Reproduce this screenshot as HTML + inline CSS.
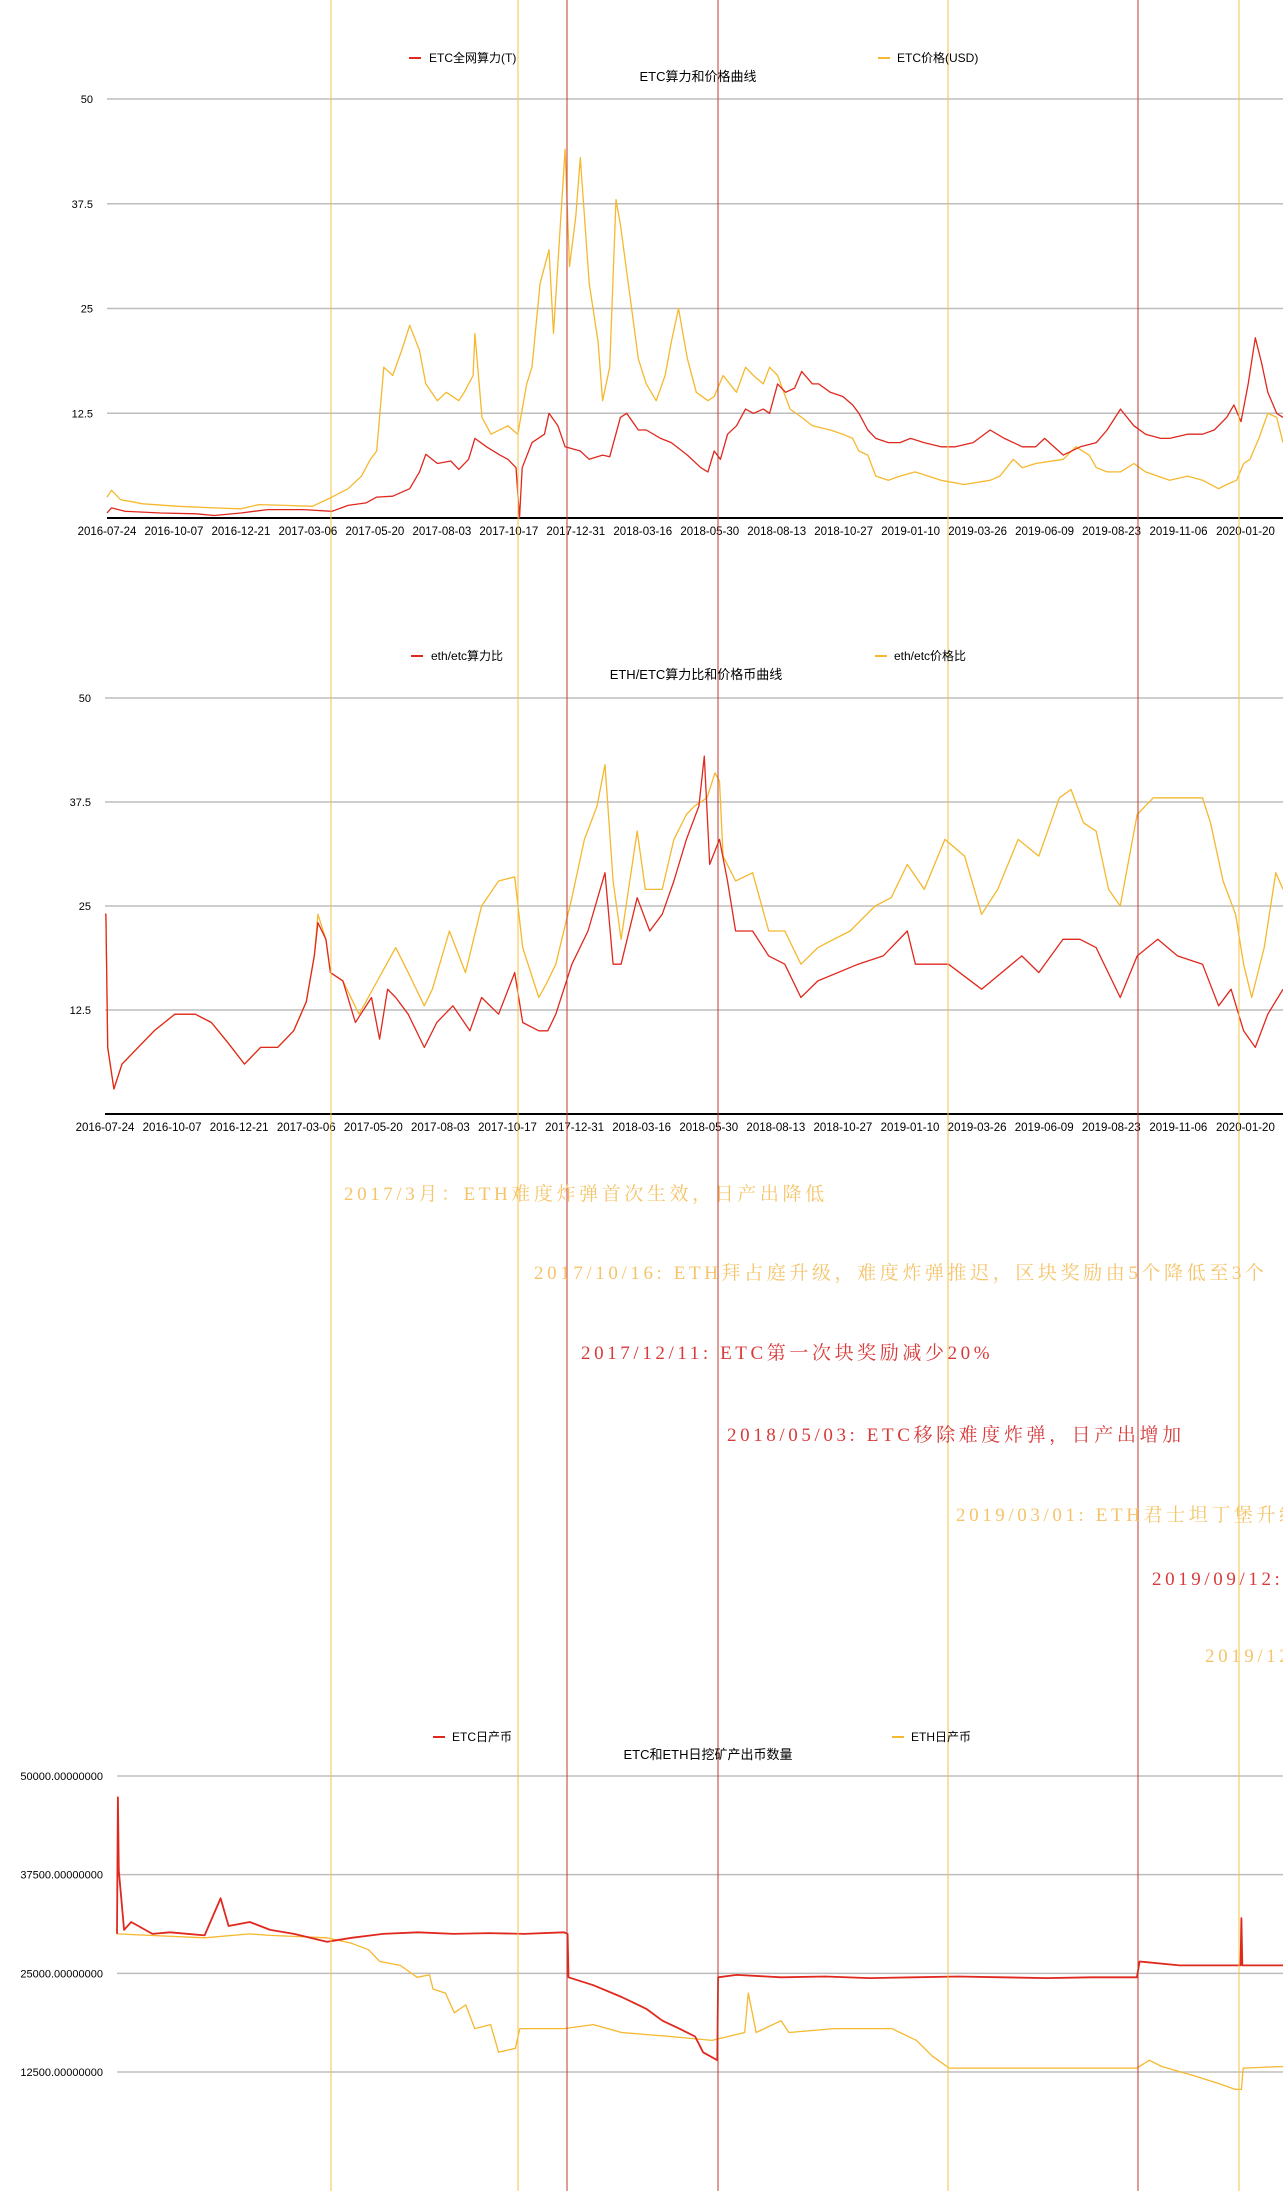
<!DOCTYPE html>
<html><head><meta charset="utf-8"><style>
html,body{margin:0;padding:0;background:#fff;}
svg{display:block;font-family:"Liberation Sans","Noto Sans CJK SC",sans-serif;}
.ann{font-family:"Liberation Serif","Noto Serif CJK SC",serif;font-size:19px;letter-spacing:3.6px;}
</style></head><body>
<svg id="page" width="1283" height="2191" viewBox="0 0 1283 2191" xmlns="http://www.w3.org/2000/svg">
<g id="grid1"></g>
<g id="grid2"></g>
<g id="grid3"></g>
<g id="series"></g>
<g id="vlines"></g>

<g>
<line x1="409" y1="58" x2="421" y2="58" stroke="#e0281e" stroke-width="2"/>
<text x="429" y="62" font-size="12">ETC全网算力(T)</text>
<line x1="878" y1="58" x2="890" y2="58" stroke="#f5b82e" stroke-width="2"/>
<text x="897" y="62" font-size="12">ETC价格(USD)</text>
<text x="698" y="81" font-size="13" text-anchor="middle">ETC算力和价格曲线</text>
</g>
<g>
<line x1="411" y1="656" x2="423" y2="656" stroke="#e0281e" stroke-width="2"/>
<text x="431" y="660" font-size="12">eth/etc算力比</text>
<line x1="875" y1="656" x2="887" y2="656" stroke="#f5b82e" stroke-width="2"/>
<text x="894" y="660" font-size="12">eth/etc价格比</text>
<text x="696" y="679" font-size="13" text-anchor="middle">ETH/ETC算力比和价格币曲线</text>
</g>
<g>
<line x1="433" y1="1737" x2="445" y2="1737" stroke="#e0281e" stroke-width="2"/>
<text x="452" y="1741" font-size="12">ETC日产币</text>
<line x1="892" y1="1737" x2="904" y2="1737" stroke="#f5b82e" stroke-width="2"/>
<text x="911" y="1741" font-size="12">ETH日产币</text>
<text x="708" y="1759" font-size="13" text-anchor="middle">ETC和ETH日挖矿产出币数量</text>
</g>

<g>
<text class="ann" x="344" y="1200" fill="#f5c46a">2017/3月：ETH难度炸弹首次生效，日产出降低</text>
<text class="ann" x="534" y="1279" fill="#f5c46a">2017/10/16:  ETH拜占庭升级，难度炸弹推迟，区块奖励由5个降低至3个</text>
<text class="ann" x="581" y="1359" fill="#d83a3a">2017/12/11: ETC第一次块奖励减少20%</text>
<text class="ann" x="727" y="1441" fill="#d83a3a">2018/05/03: ETC移除难度炸弹，日产出增加</text>
<text class="ann" x="956" y="1521" fill="#f5c46a">2019/03/01: ETH君士坦丁堡升级</text>
<text class="ann" x="1152" y="1585" fill="#d83a3a">2019/09/12: ETC</text>
<text class="ann" x="1205" y="1662" fill="#f5c46a">2019/12/08</text>
</g>
</svg>
<script>
// ---- chart 1 data ----
const hashDays=[0,5,20,60,100,120,150,180,220,252,270,290,302,320,339,350,357,370,385,394,405,412,425,440,449,458,462,465,476,490,495,505,513,530,540,555,563,575,582,595,604,620,632,650,665,673,680,687,695,705,715,724,735,742,751,760,770,778,790,797,810,824,835,842,852,861,875,888,900,915,934,950,970,989,1005,1025,1040,1050,1071,1090,1108,1120,1135,1150,1163,1180,1190,1210,1227,1240,1254,1262,1270,1278,1286,1293,1300,1310,1317];
const hashVals=[0.6,1.2,0.8,0.6,0.5,0.3,0.6,1.0,1.0,0.8,1.5,1.8,2.5,2.6,3.5,5.5,7.6,6.5,6.8,5.8,7,9.5,8.5,7.5,7.0,6,0,6,9,10,12.5,11,8.5,8,7,7.5,7.3,12,12.5,10.5,10.5,9.5,9,7.5,6,5.5,8,7,10,11,13,12.5,13,12.5,16,15,15.5,17.5,16,16,15,14.5,13.5,12.5,10.5,9.5,9,9,9.5,9,8.5,8.5,9,10.5,9.5,8.5,8.5,9.5,7.5,8.5,9,10.5,13,11,10,9.5,9.5,10,10,10.5,12,13.5,11.5,16,21.5,18.5,15,12.5,12];
const priceDays=[0,5,15,40,80,120,150,170,200,230,252,270,285,295,302,310,320,330,339,350,357,370,380,394,400,410,412,420,430,449,460,470,476,485,495,500,513,518,525,530,540,550,555,563,570,575,585,595,604,615,625,632,640,650,660,673,680,690,705,715,724,735,742,751,765,778,790,810,824,835,842,852,861,875,888,905,934,960,989,1000,1015,1025,1040,1071,1085,1100,1108,1120,1135,1150,1163,1190,1210,1227,1245,1254,1265,1273,1280,1290,1300,1310,1317];
const priceVals=[2.5,3.3,2.2,1.7,1.4,1.2,1.1,1.6,1.5,1.4,2.5,3.5,5,7,8,18,17,20,23,20,16,14,15,14,15,17,22,12,10,11,10,16,18,28,32,22,44,30,36,43,28,21,14,18,38,35,27,19,16,14,17,21,25,19,15,14,14.5,17,15,18,17,16,18,17,13,12,11,10.5,10,9.5,8,7.5,5,4.5,5,5.5,4.5,4,4.5,5,7,6,6.5,7,8.5,7.5,6,5.5,5.5,6.5,5.5,4.5,5,4.5,3.5,4,4.5,6.5,7,9.5,12.5,12,9,7];
const yTicks1=[12.5,25,37.5,50];
const dateLabels=["2016-07-24","2016-10-07","2016-12-21","2017-03-06","2017-05-20","2017-08-03","2017-10-17","2017-12-31","2018-03-16","2018-05-30","2018-08-13","2018-10-27","2019-01-10","2019-03-26","2019-06-09","2019-08-23","2019-11-06","2020-01-20"];
// ---- chart 2 data ----
const ratioHashDays=[0,1,3,10,19,37,55,78,101,119,138,156,174,193,211,225,234,238,247,252,266,280,298,307,316,325,339,357,371,389,408,421,440,458,467,485,495,504,522,540,559,568,577,595,609,623,636,650,664,670,676,687,696,705,724,742,760,778,797,842,870,897,906,943,980,1025,1044,1071,1090,1108,1126,1135,1154,1177,1199,1227,1245,1259,1273,1286,1300,1317];
const ratioHashVals=[24,24,8,3,6,8,10,12,12,11,8.5,6,8,8,10,13.5,19,23,21,17,16,11,14,9,15,14,12,8,11,13,10,14,12,17,11,10,10,12,18,22,29,18,18,26,22,24,28,33,37,43,30,33,28,22,22,19,18,14,16,18,19,22,18,18,15,19,17,21,21,20,16,14,19,21,19,18,13,15,10,8,12,15];
const ratioPriceDays=[0,1,3,10,19,37,55,78,101,119,138,156,174,193,211,225,234,238,247,252,266,284,325,339,357,366,385,403,421,440,458,467,485,495,504,522,536,550,559,568,577,595,604,623,636,650,659,673,682,687,691,705,724,742,760,778,797,833,861,879,897,916,939,961,980,998,1021,1044,1067,1080,1094,1108,1122,1135,1154,1172,1199,1227,1236,1250,1264,1273,1282,1296,1309,1317];
const ratioPriceVals=[24,24,8,3,6,8,10,12,12,11,8.5,6,8,8,10,13.5,19,24,21,17,16,12,20,17,13,15,22,17,25,28,28.5,20,14,16,18,26,33,37,42,28,21,34,27,27,33,36,37,38,41,40,31,28,29,22,22,18,20,22,25,26,30,27,33,31,24,27,33,31,38,39,35,34,27,25,36,38,38,38,35,28,24,18,14,20,29,27];
const yTicks2=[12.5,25,37.5,50];
// ---- chart 3 data ----
const etcDays=[0,1,2,8,16,40,60,99,117,126,150,173,200,237,265,300,340,380,420,460,505,509,510,538,570,598,616,635,653,662,678,679,700,750,800,850,900,950,1000,1050,1100,1152,1155,1200,1269,1270,1271,1317];
const etcVals=[30000,47300,38000,30500,31500,30000,30200,29800,34500,31000,31500,30500,30000,29000,29500,30000,30200,30000,30100,30000,30200,30000,24500,23500,22000,20500,19000,18000,17000,15000,14000,24500,24800,24500,24600,24400,24500,24600,24500,24400,24500,24500,26500,26000,26000,32000,26000,26000];
const ethDays=[0,99,150,173,237,265,284,297,320,339,353,357,371,381,394,404,422,431,450,455,505,538,570,625,672,709,713,722,750,759,810,875,903,921,940,958,1152,1166,1180,1217,1245,1263,1270,1272,1317];
const ethVals=[30000,29500,30000,29800,29500,28800,28000,26500,26000,24500,24800,23000,22500,20000,21000,18000,18500,15000,15500,18000,18000,18500,17500,17000,16500,17500,22500,17500,19000,17500,18000,18000,16500,14500,13000,13000,13000,14000,13200,12000,11000,10300,10300,13000,13200];
const yTicks3=[12500,25000,37500,50000];
const eventX=[331,518,567,718,948,1138,1239];
const eventKind=["eth","eth","etc","etc","eth","etc","eth"];

const NS="http://www.w3.org/2000/svg";
const RED="#e0281e", ORG="#f5b82e";
const DMAX=1317;
function mk(tag,attrs,parent){const e=document.createElementNS(NS,tag);for(const k in attrs)e.setAttribute(k,attrs[k]);parent.appendChild(e);return e;}
function chart(cfg){
  const xs=d=>cfg.left+d*(1283-cfg.left)/DMAX;
  const ys=v=>cfg.base-(v-cfg.vmin)*(cfg.base-cfg.top)/(cfg.vmax-cfg.vmin);
  const g=document.getElementById(cfg.grid);
  cfg.ticks.forEach(t=>{
    const l=mk('line',{x1:cfg.left,x2:1283,y1:ys(t),y2:ys(t),stroke:'#bdbdbd','stroke-width':1.5},g);
    
    
    const tx=mk('text',{x:cfg.labelX,y:ys(t)+4,'font-size':11,'text-anchor':'end'},g);
    tx.textContent=cfg.fmt(t);
    
    
  });
  if(cfg.axis){
    const a=mk('line',{x1:cfg.left,x2:1283,y1:cfg.base,y2:cfg.base,stroke:'#000','stroke-width':2},g);
    
    
    dateLabels.forEach((s,i)=>{
      const t=mk('text',{x:xs(i*75),y:cfg.base+17,'font-size':11.5,'text-anchor':'middle'},g);
      t.textContent=s;
      
      
    });
  }
  const sg=document.getElementById('series');
  cfg.series.forEach(s=>{
    let d='';
    s.days.forEach((dd,i)=>{d+=(i?'L':'M')+xs(dd).toFixed(1)+','+ys(s.vals[i]).toFixed(1);});
    const p=mk('path',{d:d,fill:'none',stroke:s.color,'stroke-width':s.w||1.3,'stroke-linejoin':'round'},sg);
    
    
  });
}
chart({grid:'grid1',left:107,top:99,base:518,vmin:0,vmax:50,ticks:yTicks1,labelX:93,fmt:t=>String(t),axis:true,
  series:[{days:priceDays,vals:priceVals,color:ORG,name:'etc-price-line'},{days:hashDays,vals:hashVals,color:RED,name:'etc-hashrate-line'}]});
chart({grid:'grid2',left:105,top:698,base:1114,vmin:0,vmax:50,ticks:yTicks2,labelX:91,fmt:t=>String(t),axis:true,
  series:[{days:ratioPriceDays,vals:ratioPriceVals,color:ORG,name:'price-ratio-line'},{days:ratioHashDays,vals:ratioHashVals,color:RED,name:'hash-ratio-line'}]});
chart({grid:'grid3',left:117,top:1776,base:2072,vmin:12500,vmax:50000,ticks:yTicks3,labelX:103,fmt:t=>t.toFixed(8),axis:false,
  series:[{days:ethDays,vals:ethVals,color:ORG,name:'eth-daily-line'},{days:etcDays,vals:etcVals,color:RED,name:'etc-daily-line',w:1.8}]});
const vg=document.getElementById('vlines');
eventX.forEach((x,i)=>{
  const l=mk('line',{x1:x,x2:x,y1:0,y2:2191,stroke:eventKind[i]==='eth'?'#f3c34a':'#c0392b','stroke-width':1},vg);
  
  
});
</script>
</body></html>
